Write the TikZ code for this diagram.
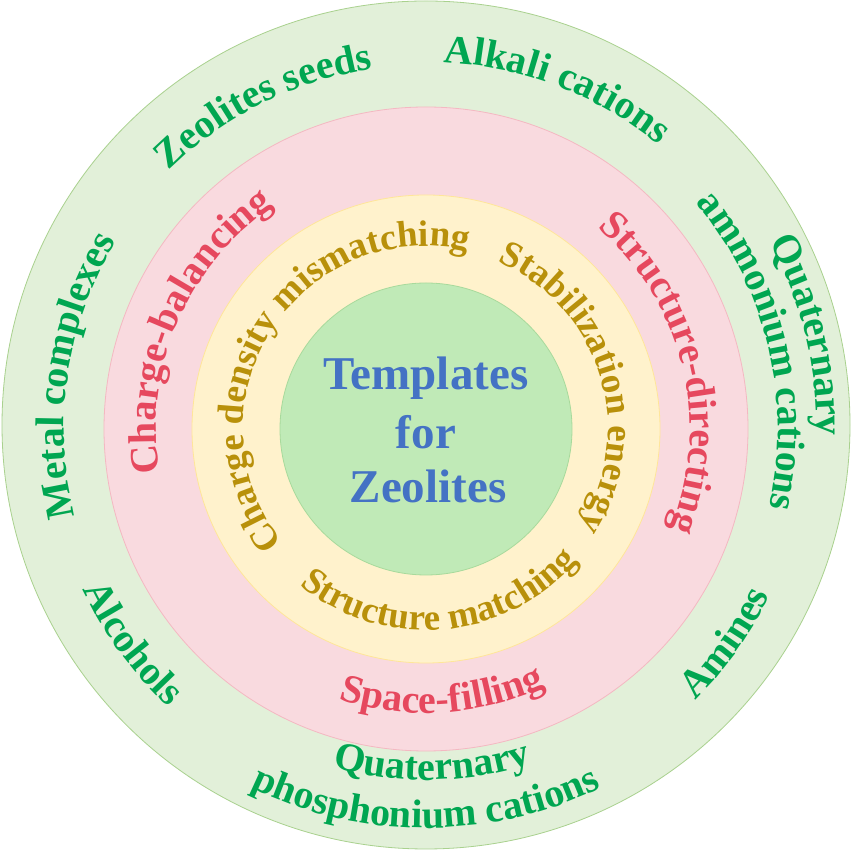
\documentclass[tikz,border=0pt]{standalone}
\usepackage{fontspec}
\setmainfont{Liberation Serif}
\usetikzlibrary{decorations.text}
\definecolor{ringout}{HTML}{E2F0D9}
\definecolor{ringoutline}{HTML}{A9D18E}
\definecolor{ringpink}{HTML}{F9DADF}
\definecolor{ringpinkline}{HTML}{F4B8C2}
\definecolor{ringyel}{HTML}{FFF2CC}
\definecolor{ringyelline}{HTML}{FFE699}
\definecolor{ringin}{HTML}{C0EAB7}
\definecolor{ringinline}{HTML}{A8DA9C}
\definecolor{tgreen}{HTML}{00A651}
\definecolor{tpink}{HTML}{E6485E}
\definecolor{tgold}{HTML}{B8900A}
\definecolor{tblue}{HTML}{4472C4}
\newcommand{\gfnt}{\fontsize{40}{44}\selectfont\bfseries}
\newcommand{\yfnt}{\fontsize{37}{40}\selectfont\bfseries}
\tikzset{
  ringtext/.style={decorate,decoration={text along path,text align=center,text color=#1}},
  ctext/.style={anchor=base,inner sep=0pt,font=\fontsize{47}{50}\selectfont\bfseries},
  ring/.style={line width=0.8pt}
}
\newcommand{\cwtext}[4]{%
  \pgfmathsetmacro{\myAngA}{#2+88}\pgfmathsetmacro{\myAngB}{#2-88}%
  \path[ringtext=#1,decoration={text={#4}}] (\myAngA:#3pt) arc[start angle=\myAngA,end angle=\myAngB,radius=#3pt];}
\newcommand{\ccwtext}[4]{%
  \pgfmathsetmacro{\myAngA}{#2-88}\pgfmathsetmacro{\myAngB}{#2+88}%
  \path[ringtext=#1,decoration={text={#4}}] (\myAngA:#3pt) arc[start angle=\myAngA,end angle=\myAngB,radius=#3pt];}
\begin{document}
\begin{tikzpicture}
\useasboundingbox (0pt,0pt) rectangle (852pt,851pt);
\fill[white] (0pt,0pt) rectangle (852pt,851pt);
\draw[ring,fill=ringout,draw=ringoutline] (426pt,426pt) circle[radius=424pt];
\begin{scope}[shift={(426pt,422pt)}]
\draw[ring,fill=ringpink,draw=ringpinkline] (0pt,0pt) circle[radius=322pt];
\draw[ring,fill=ringyel,draw=ringyelline] (0pt,0pt) circle[radius=234pt];
\draw[ring,fill=ringin,draw=ringinline] (0pt,0pt) circle[radius=146pt];
% outer green ring
\cwtext{tgreen}{116.6}{364}{|\gfnt|Zeolites seeds}
\cwtext{tgreen}{69}{367}{|\gfnt|Alkali cations}
\cwtext{tgreen}{171.3}{362}{|\gfnt|Metal complexes}
\cwtext{tgreen}{13.8}{391}{|\gfnt|Quaternary}
\cwtext{tgreen}{13.5}{352}{|\gfnt|ammonium cations}
\ccwtext{tgreen}{-35.5}{382}{|\gfnt|Amines}
\ccwtext{tgreen}{-143.9}{379}{|\gfnt|Alcohols}
\ccwtext{tgreen}{-89}{351}{|\gfnt|Quaternary}
\ccwtext{tgreen}{-90}{399}{|\gfnt|phosphonium cations}
% pink ring
\cwtext{tpink}{156.8}{270}{|\gfnt|Charge-balancing}
\cwtext{tpink}{13.7}{264}{|\gfnt|Structure-directing}
\ccwtext{tpink}{-86.5}{284}{|\gfnt|Space-filling}
% yellow ring
\cwtext{tgold}{147.6}{183}{|\yfnt|Charge density mismatching}
\cwtext{tgold}{17.2}{182}{|\yfnt|Stabilization energy}
\ccwtext{tgold}{-85}{201}{|\yfnt|Structure matching}
\end{scope}
% centre title
\node[ctext,text=tblue] (t1) at (426pt,461pt) {Templates};
\node[ctext,text=tblue] (t2) at (426pt,402pt) {for};
\node[ctext,text=tblue] (t3) at (428pt,348pt) {Zeolites};
\end{tikzpicture}
\end{document}
